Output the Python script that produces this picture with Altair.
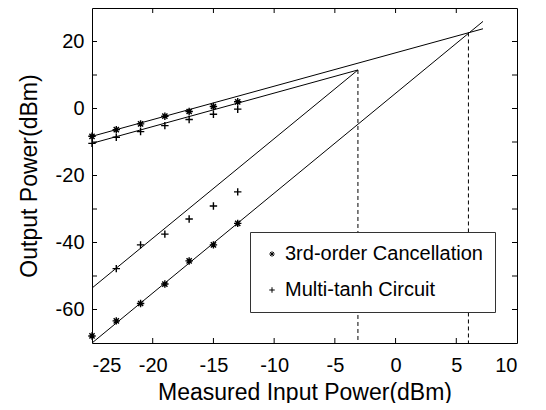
import altair as alt
import pandas as pd

# ---- data ----
x_meas = [-25, -23, -21, -19, -17, -15, -13]
fund_cancel = [-8.3, -6.3, -4.6, -2.3, -0.9, 0.6, 2.0]
fund_tanh = [-10.4, -8.6, -6.9, -5.1, -3.3, -1.7, -0.2]
im3_cancel = [-67.9, -63.4, -58.2, -52.4, -45.5, -40.7, -34.3]
x_im3_tanh = [-23, -21, -19, -17, -15, -13]
im3_tanh = [-47.8, -40.7, -37.5, -33.0, -29.1, -24.9]

series_names = ["3rd-order Cancellation", "Multi-tanh Circuit"]

# fitted lines: (start x, start y, end x, end y)
line_ids = ["fund_cancel", "fund_tanh", "im3_cancel", "im3_tanh"]
line_x0 = [-25, -25, -25, -25]
line_y0 = [-8.3, -10.4, -70.0, -53.6]
line_x1 = [7.2, -3.1, 7.2, -3.1]
line_y1 = [23.8, 11.5, 26.0, 11.5]

# dashed intercept markers
ip_x = [-3.1, 6.0]
ip_y = [11.5, 22.7]
y_bottom = -70

x_ticks = [-25, -20, -15, -10, -5, 0, 5, 10]
y_labels = [-60, -40, -20, 0, 20]
y_ticks = [-60, -50, -40, -30, -20, -10, 0, 10, 20]

STAR = "M-1,0L1,0M0,-1L0,1M-0.7,-0.7L0.7,0.7M-0.7,0.7L0.7,-0.7"
PLUS = "M-1,0L1,0M0,-1L0,1"

W, H = 425, 335

# ---- tables ----
rows = []
for xv, yv in zip(x_meas, fund_cancel):
    rows.append({"x": xv, "y": yv, "series": series_names[0]})
for xv, yv in zip(x_meas, im3_cancel):
    rows.append({"x": xv, "y": yv, "series": series_names[0]})
for xv, yv in zip(x_meas, fund_tanh):
    rows.append({"x": xv, "y": yv, "series": series_names[1]})
for xv, yv in zip(x_im3_tanh, im3_tanh):
    rows.append({"x": xv, "y": yv, "series": series_names[1]})
pts = pd.DataFrame(rows)

lrows = []
for lid, a, b, c, d in zip(line_ids, line_x0, line_y0, line_x1, line_y1):
    lrows.append({"id": lid, "x": a, "y": b, "o": 0})
    lrows.append({"id": lid, "x": c, "y": d, "o": 1})
lines = pd.DataFrame(lrows)

drows = []
for i, (a, b) in enumerate(zip(ip_x, ip_y)):
    drows.append({"id": i, "x": a, "y": b, "o": 0})
    drows.append({"id": i, "x": a, "y": y_bottom, "o": 1})
dashed = pd.DataFrame(drows)

xt = pd.DataFrame({"x": [v for v in x_ticks if -25 < v < 10]})
yt = pd.DataFrame({"y": [v for v in y_ticks if -70 < v < 30]})

xscale = alt.Scale(domain=[-25, 10], nice=False, zero=False)
yscale = alt.Scale(domain=[-70, 30], nice=False, zero=False)
x_axis = alt.Axis(values=x_ticks, title="Measured Input Power(dBm)", labelPadding=12,
                  titlePadding=6, labelExpr="datum.value + ''")
y_axis = alt.Axis(values=y_labels, title="Output Power(dBm)", labelPadding=8,
                  titlePadding=14, labelExpr="datum.value + ''")

X = alt.X("x:Q", scale=xscale, axis=x_axis)
Y = alt.Y("y:Q", scale=yscale, axis=y_axis)

points = alt.Chart(pts).mark_point(filled=False, color="black", strokeWidth=1.4, opacity=1, size=55).encode(
    x=X, y=Y,
    shape=alt.Shape("series:N",
                    scale=alt.Scale(domain=series_names, range=[STAR, PLUS]),
                    legend=alt.Legend(title=None, orient="none", legendX=158, legendY=224,
                                      strokeColor="#333", fillColor="white", padding=12,
                                      rowPadding=16, labelFontSize=20, labelOffset=3,
                                      labelLimit=400,
                                      symbolSize=30, symbolStrokeWidth=1,
                                      symbolStrokeColor="black")),
)

fit = alt.Chart(lines).mark_line(color="black", strokeWidth=1).encode(
    x=X, y=Y, detail="id:N", order="o:Q")

dash = alt.Chart(dashed).mark_line(color="black", strokeWidth=1, strokeDash=[4, 3]).encode(
    x=X, y=Y, detail="id:N", order="o:Q")

tick_top = alt.Chart(xt).mark_rule(color="black").encode(x=X, y=alt.value(0), y2=alt.value(5))
tick_bot = alt.Chart(xt).mark_rule(color="black").encode(x=X, y=alt.value(H), y2=alt.value(H - 5))
tick_left = alt.Chart(yt).mark_rule(color="black").encode(y=Y, x=alt.value(0), x2=alt.value(5))
tick_right = alt.Chart(yt).mark_rule(color="black").encode(y=Y, x=alt.value(W - 5), x2=alt.value(W))

chart = alt.layer(points, fit, dash, tick_top, tick_bot, tick_left, tick_right).properties(
    width=W, height=H,
    autosize=alt.AutoSizeParams(type="none"),
    padding={"left": 84, "top": 0, "right": 21, "bottom": 60},
    background="white",
).configure_view(stroke="black", strokeWidth=1).configure_axis(
    ticks=False, domain=False, grid=False,
    labelFont="Liberation Sans", labelFontSize=20, labelColor="black",
    titleFont="Liberation Sans", titleFontSize=23, titleFontWeight="normal", titleColor="black",
).configure_legend(labelFont="Liberation Sans", labelColor="black", cornerRadius=0)

chart.save("out.html", embed_options={"renderer": "svg", "actions": False})
